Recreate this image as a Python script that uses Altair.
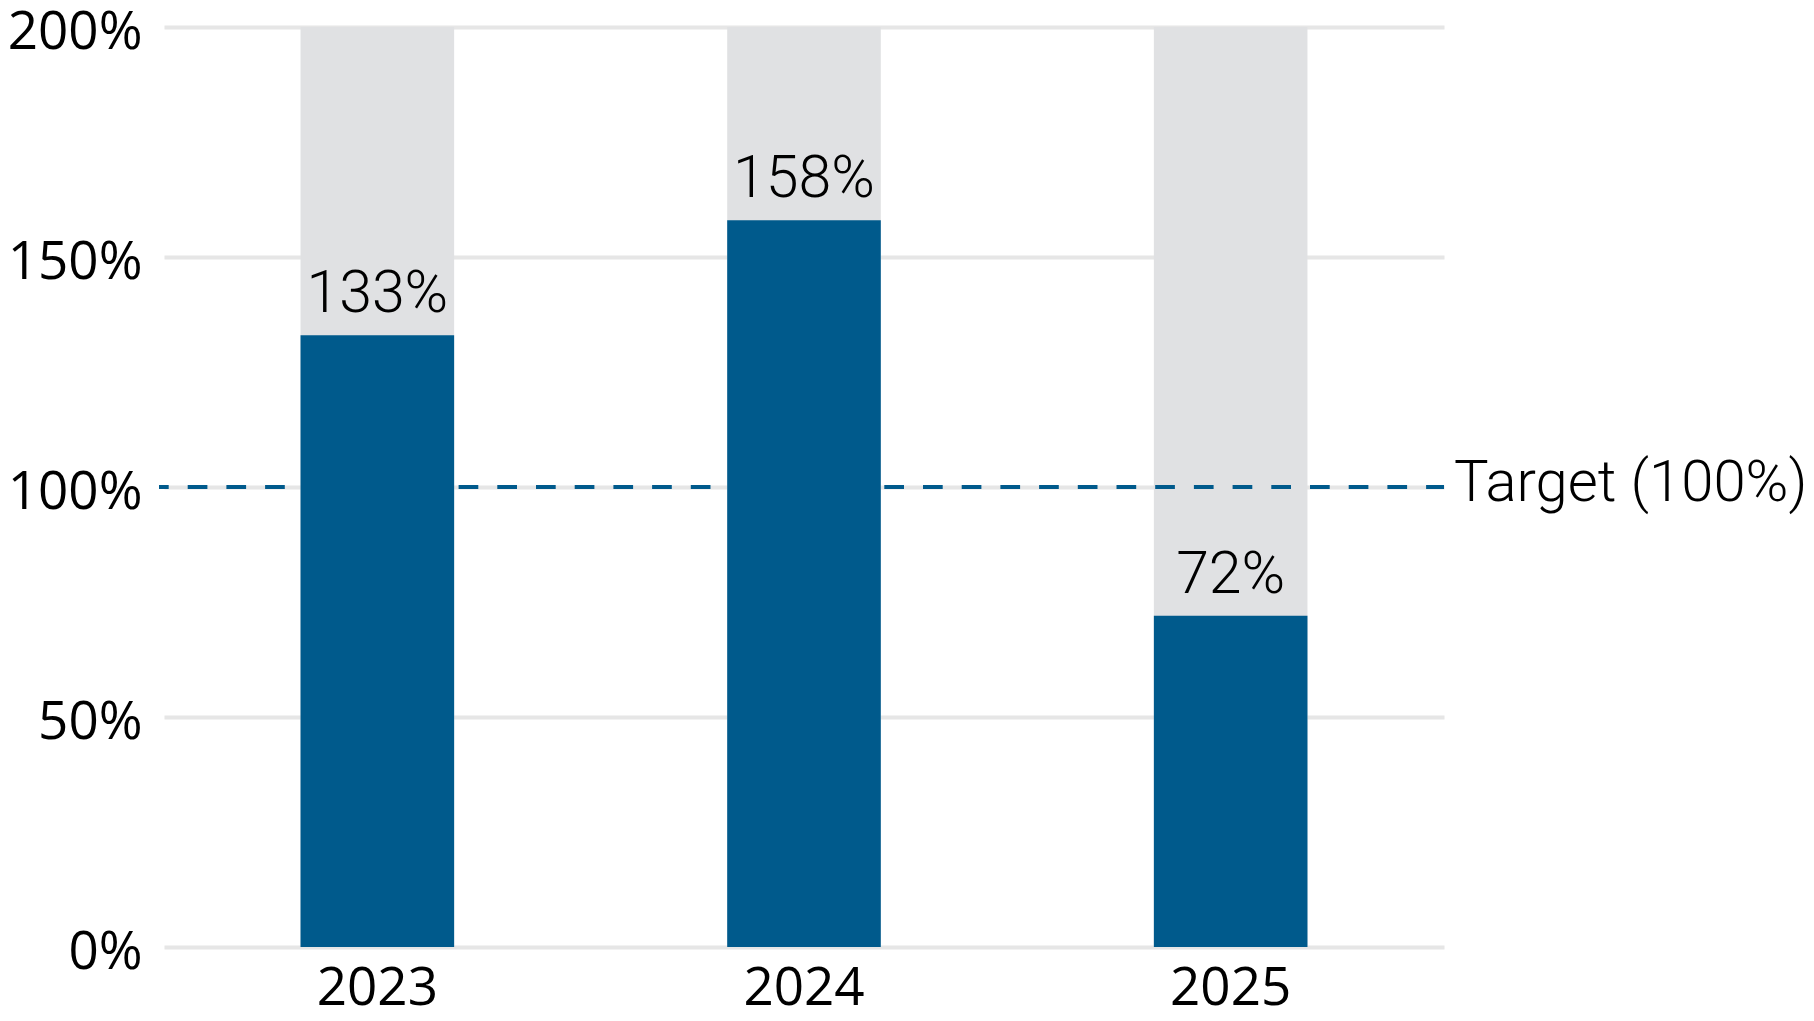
import altair as alt
import pandas as pd

years = ["2023", "2024", "2025"]
values = [133, 158, 72]
max_value = [200, 200, 200]
target = 100
y_ticks = [0, 50, 100, 150, 200]

df = pd.DataFrame({"year": years, "value": values, "full": max_value,
                   "label": [f"{v}%" for v in values]})
tdf = pd.DataFrame({"target": [target], "label": [f"Target ({target}%)"]})

BLUE = "#005a8c"
GREY = "#e0e1e3"

x_enc = alt.X("year:N", sort=years,
              scale=alt.Scale(paddingInner=0.64, paddingOuter=0.32),
              axis=alt.Axis(title=None, labelAngle=0, domain=False, ticks=False,
                            labelFontSize=53, labelFont="Open Sans", labelColor="#000",
                            labelPadding=15, grid=False))
y_scale = alt.Scale(domain=[0, 200], nice=False)

base = alt.Chart(df)

rule = alt.Chart(tdf).mark_rule(color=BLUE, strokeWidth=4, strokeDash=[19.7, 19],
                                strokeDashOffset=10).encode(
    y=alt.Y("target:Q", scale=y_scale),
    x=alt.value(-5), x2=alt.value(1280))

bg = base.mark_bar(color=GREY).encode(
    x=x_enc,
    y=alt.Y("full:Q", scale=y_scale,
            axis=alt.Axis(title=None, values=y_ticks, labelExpr="datum.value + '%'",
                          domain=False, ticks=False, labelFontSize=53,
                          labelFont="Open Sans", labelColor="#000", labelPadding=22,
                          labelOffset=5,
                          grid=True, gridColor="#e6e6e6", gridWidth=4)))

fg = base.mark_bar(color=BLUE).encode(x=x_enc, y=alt.Y("value:Q", scale=y_scale))

lbl = base.mark_text(font="Roboto", fontWeight=300, fontSize=59, color="#000",
                     baseline="alphabetic", dy=-23).encode(
    x=x_enc, y=alt.Y("value:Q", scale=y_scale), text="label:N")

tlbl = alt.Chart(tdf).mark_text(font="Roboto", fontWeight=300, fontSize=58, color="#000",
                                align="left", baseline="middle", dy=-3).encode(
    y=alt.Y("target:Q", scale=y_scale), x=alt.value(1290), text="label:N")

chart = alt.layer(bg, rule, fg, lbl, tlbl).properties(
    width=1280, height=920,
    autosize=alt.AutoSizeParams(type="none"),
    padding={"left": 156, "top": 19, "right": 362, "bottom": 72},
).configure_view(stroke=None)

chart.save("out.html", embed_options={"renderer": "svg", "actions": False})
